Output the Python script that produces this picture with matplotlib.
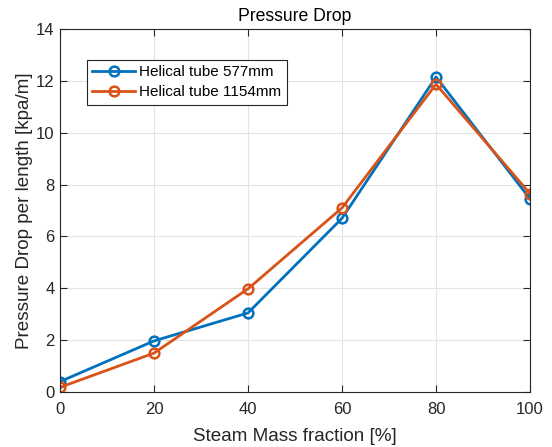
import matplotlib
matplotlib.use("Agg")
import matplotlib.pyplot as plt

plt.rcParams['font.family'] = ['Liberation Sans', 'DejaVu Sans']

x = [0, 20, 40, 60, 80, 100]
tube_577 = [0.40, 1.97, 3.05, 6.70, 12.15, 7.45]
tube_1154 = [0.18, 1.50, 3.98, 7.10, 11.87, 7.65]
labels = ["Helical tube 577mm", "Helical tube 1154mm"]

fig = plt.figure(figsize=(5.52, 4.47), dpi=100)
ax = fig.add_axes([60/552, 1-392/447, 470/552, 363/447])

ax.plot(x, tube_577, color='#0072BD', lw=2, marker='o', ms=7, mfc='none', mew=1.8, label=labels[0])
ax.plot(x, tube_1154, color='#D95319', lw=2, marker='o', ms=7, mfc='none', mew=1.8, label=labels[1])

ax.set_xlim(0, 100)
ax.set_ylim(0, 14)
ax.set_xticks([0, 20, 40, 60, 80, 100])
ax.set_yticks([0, 2, 4, 6, 8, 10, 12, 14])
ax.grid(True, color='#e3e3e3', lw=0.8)
ax.set_axisbelow(True)
ax.tick_params(direction='in', top=True, right=True, labelsize=12, colors='#262626', length=5)
ax.tick_params(axis='x', pad=7)
ax.tick_params(axis='y', pad=4)
for s in ax.spines.values():
    s.set_color('#262626')
    s.set_linewidth(0.8)

ax.set_title("Pressure Drop", fontsize=12.7, color='#000000', pad=6)
ax.set_xlabel("Steam Mass fraction [%]", fontsize=13.6, color='#262626', labelpad=8)
ax.set_ylabel("Pressure Drop per length [kpa/m]", fontsize=13.6, color='#262626', labelpad=2)

leg = ax.legend(loc='upper left', bbox_to_anchor=(0.057, 0.915), fontsize=11, frameon=True,
                fancybox=False, edgecolor='#262626', framealpha=1, borderpad=0.35,
                handlelength=2.8, labelspacing=0.4, handletextpad=0.3, borderaxespad=0)
leg.get_frame().set_linewidth(0.8)

fig.savefig("out.png", dpi=100)
